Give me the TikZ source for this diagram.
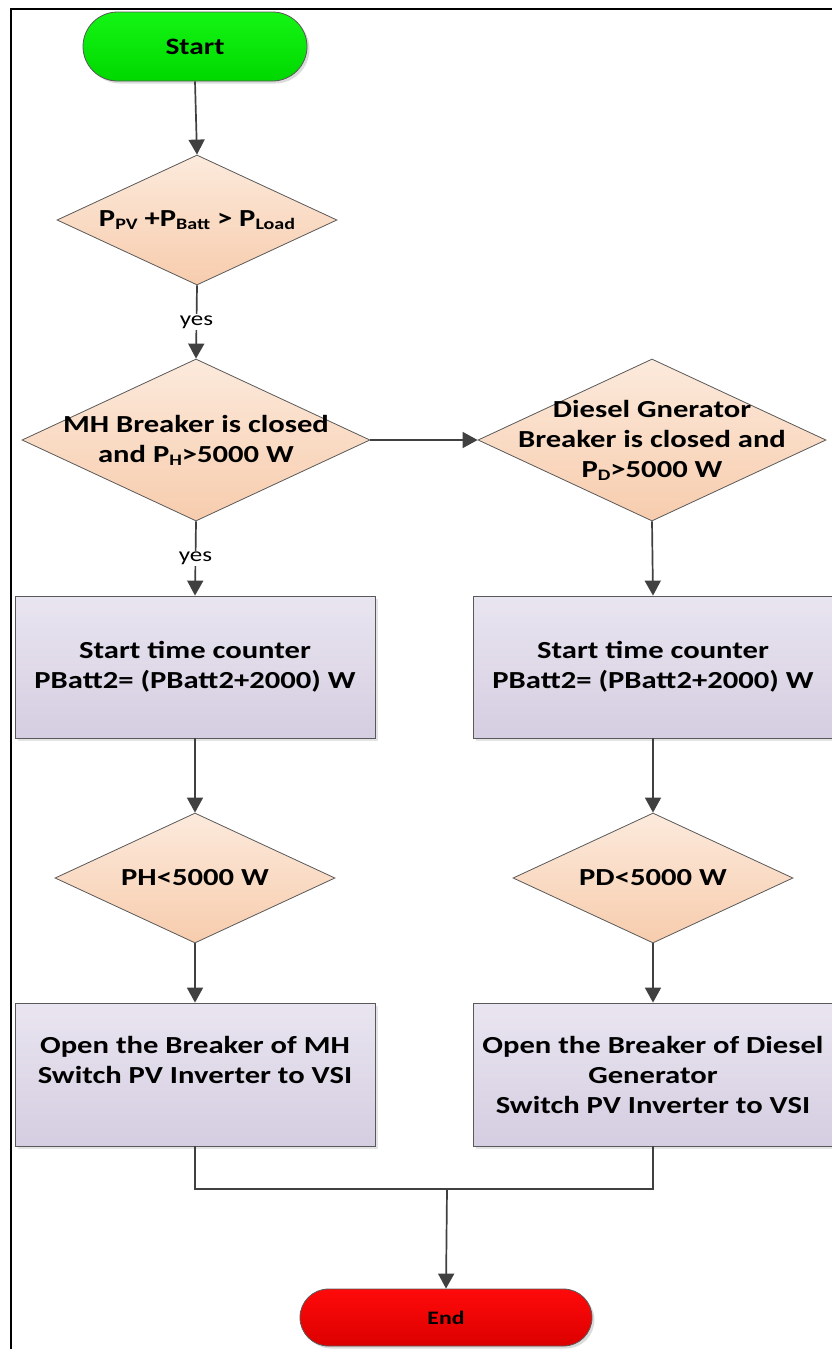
\documentclass[tikz,border=0pt]{standalone}
\usepackage{fontspec}
\usepackage{graphicx}
\setmainfont{Carlito}[FakeStretch=1.25]
\usetikzlibrary{shapes.geometric,arrows.meta,shadows}

\definecolor{edgegray}{HTML}{595959}
\definecolor{linegray}{HTML}{404040}
\definecolor{dtop}{HTML}{FCEADC}
\definecolor{dbot}{HTML}{F7CCAD}
\definecolor{btop}{HTML}{E9E5F0}
\definecolor{bbot}{HTML}{D5CDE1}
\definecolor{gtop}{HTML}{14F514}
\definecolor{gbot}{HTML}{00D800}
\definecolor{rtop}{HTML}{FF0A0A}
\definecolor{rbot}{HTML}{DC0000}

% lowered, smaller text used for the power subscripts
\newcommand{\lowsub}[1]{\raisebox{-3pt}{\fontsize{16}{16}\selectfont #1}}

\begin{document}
\begin{tikzpicture}[x=1pt,y=-1pt,
  every node/.style={font=\fontsize{24.5}{30}\selectfont\bfseries, align=center, text=black},
  terminal/.style={rectangle, draw=edgegray, line width=0.8pt, inner sep=0pt,
    drop shadow={shadow xshift=2.5pt, shadow yshift=-2.5pt, fill=black!35, opacity=0.4}},
  decision/.style={diamond, draw=edgegray, line width=0.8pt, inner sep=0pt,
    top color=dtop, bottom color=dbot, minimum width=280pt, minimum height=130pt},
  bigdecision/.style={decision, minimum width=348pt, minimum height=162pt},
  process/.style={rectangle, draw=edgegray, line width=0.8pt, inner sep=0pt,
    top color=btop, bottom color=bbot, minimum width=360pt, minimum height=142pt,
    drop shadow={shadow xshift=3pt, shadow yshift=-3pt, fill=black!30, opacity=0.35}},
  flowline/.style={draw=linegray, line width=1.7pt},
  flowarrow/.style={flowline, -{Triangle[width=16pt,length=15pt]}},
  yeslabel/.style={fill=white, inner sep=1.5pt, font=\fontsize{20}{24}\selectfont\mdseries}
]
\useasboundingbox (0,0) rectangle (832,1349);

% frame along the top and left edges
\draw[line width=2.4pt, black] (11,1349) -- (11,9) -- (832,9);

% terminals
\node[terminal, top color=gtop, bottom color=gbot, minimum width=224pt, minimum height=69pt,
      rounded corners=34.5pt] (start) at (195,46.5) {\fontsize{23.5}{28}\selectfont Start};
\node[terminal, top color=rtop, bottom color=rbot, minimum width=292pt, minimum height=57pt,
      rounded corners=28.5pt] (end) at (446,1317.5) {\fontsize{19}{23}\selectfont End};

% decisions
\node[decision] (d1) at (197,220) {};
\node (d1t) at (d1) {P\lowsub{PV} +P\lowsub{Batt} > P\lowsub{Load}};

\node[bigdecision] (d2) at (196,440) {};
\node (d2t) at (d2) {MH Breaker is closed\\and P\lowsub{H}>5000 W};

\node[bigdecision] (d3) at (652,440) {};
\node (d3t) at (d3) {Diesel Gnerator\\Breaker is closed and\\P\lowsub{D}>5000 W};

\node[decision] (d4) at (195,878) {};
\node (d4t) at (d4) {PH<5000 W};

\node[decision] (d5) at (653,878) {};
\node (d5t) at (d5) {PD<5000 W};

% processes
\node[process] (b1) at (195,667) {Start time counter\\PBatt2= (PBatt2+2000) W};
\node[process] (b2) at (653,667) {Start time counter\\PBatt2= (PBatt2+2000) W};
\node[process, minimum height=143pt] (b3) at (195,1074.5) {Open the Breaker of MH\\Switch PV Inverter to VSI\\\mbox{}};
\node[process, minimum height=143pt] (b4) at (653,1074.5) {Open the Breaker of Diesel\\Generator\\Switch PV Inverter to VSI};

% connectors
\coordinate (join) at (447,1189);
\draw[flowarrow] (start.south) -- (d1.north);
\draw[flowarrow] (d1.south) -- node[yeslabel] (yes1) {yes} (d2.north);
\draw[flowarrow] (d2.east) -- (d3.west);
\draw[flowarrow] (d2.south) -- node[yeslabel] (yes2) {yes} (b1.north);
\draw[flowarrow] (d3.south) -- (b2.north);
\draw[flowarrow] (b1.south) -- (d4.north);
\draw[flowarrow] (b2.south) -- (d5.north);
\draw[flowarrow] (d4.south) -- (b3.north);
\draw[flowarrow] (d5.south) -- (b4.north);
\draw[flowline] (b3.south) |- (join) -| (b4.south);
\draw[flowarrow] (join) -- (end.north);
\end{tikzpicture}
\end{document}
